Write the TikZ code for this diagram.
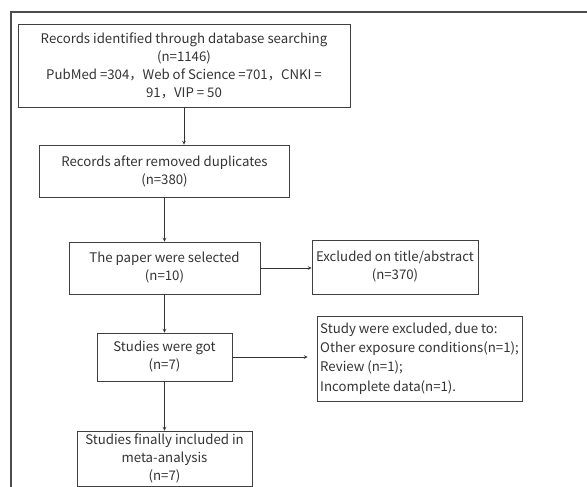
\documentclass[tikz,border=0pt]{standalone}
\usepackage{fontspec}
\setmainfont{Noto Sans CJK SC}
\begin{document}
\begin{tikzpicture}[
  box/.style={rectangle, draw=black!75, line width=0.5pt, align=center, inner sep=0pt, text=black!80,
    font=\fontsize{11.3}{15.4}\selectfont},
  leftbox/.style={box, align=left},
  flow/.style={->, >=stealth, line width=0.5pt, black!80},
  frame/.style={black!70, line width=0.9pt},
]

% Canvas
\useasboundingbox (0,0) rectangle (17.61,-14.61);
\draw[frame] (17.61,-0.36) -- (0.33,-0.36) -- (0.33,-14.61);

% Main column
\node[box, minimum width=9.96cm, minimum height=2.49cm] (ident) at (5.52,-1.965)
  {Records identified through database searching\\(n=1146)\\PubMed =304，Web of Science =701，CNKI =\\91，VIP = 50};
\node[box, minimum width=7.5cm, minimum height=1.56cm] (dedup) at (4.935,-5.13)
  {Records after removed duplicates\\(n=380)};
\node[box, minimum width=5.73cm, minimum height=1.56cm] (select) at (4.935,-8.04)
  {The paper were selected\\(n=10)};
\node[box, minimum width=4.05cm, minimum height=1.44cm] (got) at (4.935,-10.71)
  {Studies were got\\(n=7)};
\node[box, minimum width=5.25cm, minimum height=1.65cm] (final) at (4.935,-13.755)
  {Studies finally included in\\meta-analysis\\(n=7)};

% Exclusions
\node[box, minimum width=4.98cm, minimum height=1.62cm] (excl) at (11.85,-8.01)
  {Excluded on title/abstract\\(n=370)};
\node[leftbox, minimum width=6.15cm, minimum height=2.55cm, font=\fontsize{11.3}{16.5}\selectfont] (reason) at (12.585,-10.755)
  {Study were excluded, due to:\\Other exposure conditions(n=1);\\Review (n=1);\\Incomplete data(n=1).};

% Arrows
\draw[flow] (ident.south) -- (ident.south |- dedup.north);
\draw[flow] (dedup) -- (select);
\draw[flow] (select) -- (got);
\draw[flow] (got) -- (final);
\draw[flow] (select.east) -- (select.east -| excl.west);
\draw[flow, shorten >=0.27cm] (got.east) -- (got.east -| reason.west);
\end{tikzpicture}
\end{document}
